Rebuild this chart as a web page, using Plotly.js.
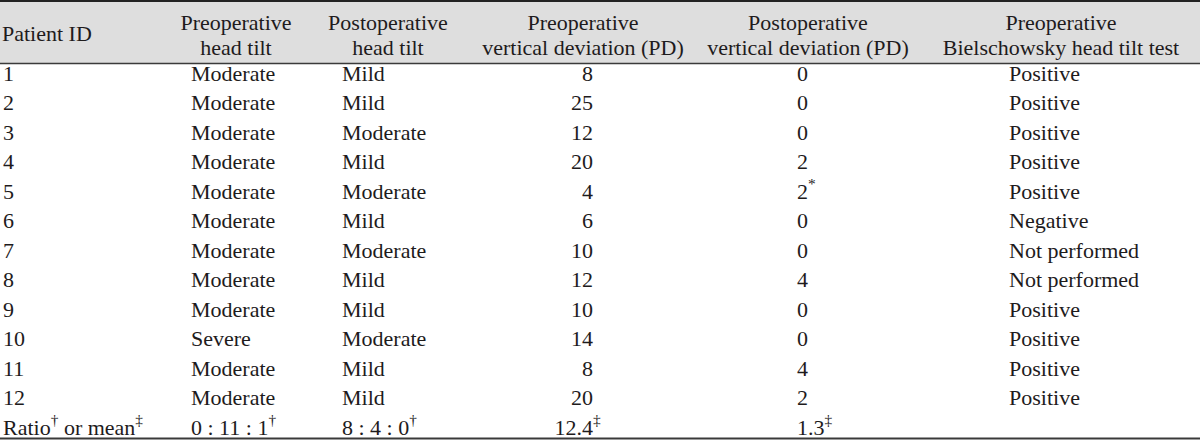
<!DOCTYPE html>
<html>
<head>
<meta charset="utf-8">
<script src="https://cdn.plot.ly/plotly-3.0.1.min.js"></script>
<style>
  html, body { margin: 0; padding: 0; background: #ffffff; }
  #chart { width: 1200px; height: 440px; }
</style>
</head>
<body>
<div id="chart"></div>
<script>
// ---------------- data ----------------
const headerLines = [
  ['Patient ID'],
  ['Preoperative', 'head tilt'],
  ['Postoperative', 'head tilt'],
  ['Preoperative', 'vertical deviation (PD)'],
  ['Postoperative', 'vertical deviation (PD)'],
  ['Preoperative', 'Bielschowsky head tilt test']
];
const patientIds = ['1','2','3','4','5','6','7','8','9','10','11','12'];
const preHeadTilt = ['Moderate','Moderate','Moderate','Moderate','Moderate','Moderate',
                     'Moderate','Moderate','Moderate','Severe','Moderate','Moderate'];
const postHeadTilt = ['Mild','Mild','Moderate','Mild','Moderate','Mild',
                      'Moderate','Mild','Mild','Moderate','Mild','Mild'];
const preVerticalDeviation = [8, 25, 12, 20, 4, 6, 10, 12, 10, 14, 8, 20];
const postVerticalDeviation = ['0','0','0','2','2<sup>*</sup>','0','0','4','0','0','4','2'];
const bielschowskyTest = ['Positive','Positive','Positive','Positive','Positive','Negative',
                          'Not performed','Not performed','Positive','Positive','Positive','Positive'];
const summaryRow = ['Ratio<sup>†</sup> or mean<sup>‡</sup>', '0 : 11 : 1<sup>†</sup>',
                    '8 : 4 : 0<sup>†</sup>', '12.4', '1.3<sup>‡</sup>', ''];
const summaryMarkPreVD = '<sup>‡</sup>';

// ---------------- layout config ----------------
const FONT = 'Liberation Serif, "Times New Roman", serif';
const FS = 22;
const INK = '#1e1b1c';
const colCfg = [
  {x: 3,    pos: 'middle right', hx: 2,    hpos: 'middle right'},
  {x: 191,  pos: 'middle right', hx: 236,  hpos: 'middle center'},
  {x: 342,  pos: 'middle right', hx: 388,  hpos: 'middle center'},
  {x: 593,  pos: 'middle left',  hx: 583,  hpos: 'middle center'},
  {x: 797,  pos: 'middle right', hx: 808,  hpos: 'middle center'},
  {x: 1009, pos: 'middle right', hx: 1061, hpos: 'middle center'}
];
const ROW0_PX = 75, ROW_PX = 29.5, H = 440, W = 1200;
const pxToRow = p => (p - ROW0_PX) / ROW_PX + 1;

const columns = [
  patientIds.concat([summaryRow[0]]),
  preHeadTilt.concat([summaryRow[1]]),
  postHeadTilt.concat([summaryRow[2]]),
  preVerticalDeviation.map(String).concat([summaryRow[3]]),
  postVerticalDeviation.concat([summaryRow[4]]),
  bielschowskyTest.concat([summaryRow[5]])
];

const traces = [];
const baseText = {type: 'scatter', mode: 'text', hoverinfo: 'skip', showlegend: false,
                  cliponaxis: false, textfont: {family: FONT, size: FS, color: INK}};

columns.forEach((vals, c) => {
  const xs = [], ys = [], ts = [];
  vals.forEach((v, i) => {
    if (v === '') return;
    xs.push(colCfg[c].x); ys.push(i + 1); ts.push(v);
  });
  traces.push(Object.assign({}, baseText, {x: xs, y: ys, text: ts, textposition: colCfg[c].pos}));
});
// footnote mark on the preoperative mean
traces.push(Object.assign({}, baseText, {
  x: [colCfg[3].x], y: [columns[3].length], text: [summaryMarkPreVD], textposition: 'middle right'
}));

// headers
const hx = [], hy = [], ht = [], hp = [];
headerLines.forEach((lines, c) => {
  const ys = lines.length === 1 ? [35] : [24, 49];
  lines.forEach((t, k) => {
    hx.push(colCfg[c].hx); hy.push(pxToRow(ys[k])); ht.push(t); hp.push(colCfg[c].hpos);
  });
});
traces.push(Object.assign({}, baseText, {x: hx, y: hy, text: ht, textposition: hp}));

const py = p => 1 - p / H;
const layout = {
  width: W, height: H,
  margin: {l: 0, r: 0, t: 0, b: 0, pad: 0},
  paper_bgcolor: '#ffffff', plot_bgcolor: '#ffffff',
  xaxis: {range: [0, W], visible: false, fixedrange: true},
  yaxis: {range: [pxToRow(H), pxToRow(0)], visible: false, fixedrange: true},
  shapes: [
    {type: 'rect', xref: 'paper', yref: 'paper', x0: 0, x1: 1, y0: py(63), y1: py(1),
     fillcolor: '#dedede', line: {width: 0}, layer: 'below'},
    {type: 'line', xref: 'paper', yref: 'paper', x0: 0, x1: 1, y0: py(1), y1: py(1),
     line: {color: '#222222', width: 2}},
    {type: 'line', xref: 'paper', yref: 'paper', x0: 0, x1: 1, y0: py(63.5), y1: py(63.5),
     line: {color: '#3a3a3a', width: 1.5}},
    {type: 'line', xref: 'paper', yref: 'paper', x0: 0, x1: 1, y0: py(438.5), y1: py(438.5),
     line: {color: '#3a3a3a', width: 2}}
  ]
};

Plotly.newPlot('chart', traces, layout, {displayModeBar: false, staticPlot: true});
</script>
</body>
</html>
